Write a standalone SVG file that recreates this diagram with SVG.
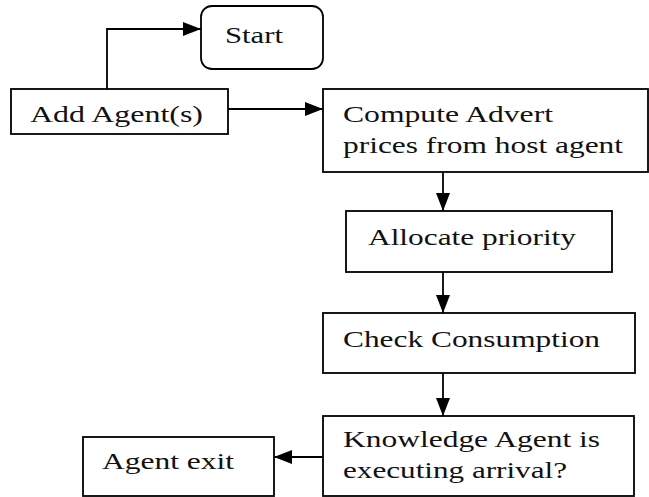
<svg xmlns="http://www.w3.org/2000/svg" width="649" height="497" viewBox="0 0 649 497">
  <style>
    .box { fill: #ffffff; stroke: #000000; stroke-width: 1.8; }
    .lbl { font-family: "Liberation Serif", "Times New Roman", serif; font-size: 24px; fill: #111111; }
    .edge { fill: none; stroke: #000000; stroke-width: 1.8; }
  </style>
  <defs>
    <marker id="arrow" markerUnits="userSpaceOnUse" markerWidth="18" markerHeight="14" viewBox="0 0 18 14" refX="18" refY="7" orient="auto">
      <path d="M0,0 L18,7 L0,14 Z" fill="#000000"/>
    </marker>
  </defs>
  <rect width="649" height="497" fill="#ffffff"/>

  <g id="connectors">
    <path class="edge" d="M107,89 L107,29 L201,29" marker-end="url(#arrow)"/>
    <path class="edge" d="M228,109 L323,109" marker-end="url(#arrow)"/>
    <path class="edge" d="M443,172 L443,211" marker-end="url(#arrow)"/>
    <path class="edge" d="M443,272 L443,313" marker-end="url(#arrow)"/>
    <path class="edge" d="M443,373 L443,416" marker-end="url(#arrow)"/>
    <path class="edge" d="M323,457 L274,457" marker-end="url(#arrow)"/>
  </g>

  <g id="start">
    <rect class="box" x="201" y="6" width="122" height="63" rx="11" ry="11"/>
    <text class="lbl" x="225" y="43" textLength="58" lengthAdjust="spacingAndGlyphs">Start</text>
  </g>

  <g id="add-agents">
    <rect class="box" x="11" y="89" width="217" height="45"/>
    <text class="lbl" x="30" y="122" textLength="173" lengthAdjust="spacingAndGlyphs">Add Agent(s)</text>
  </g>

  <g id="compute-advert">
    <rect class="box" x="323" y="89" width="325" height="83"/>
    <text class="lbl" x="343" y="122" textLength="210" lengthAdjust="spacingAndGlyphs">Compute Advert</text>
    <text class="lbl" x="343" y="153" textLength="280" lengthAdjust="spacingAndGlyphs">prices from host agent</text>
  </g>

  <g id="allocate-priority">
    <rect class="box" x="346" y="211" width="266" height="61"/>
    <text class="lbl" x="368" y="245" textLength="208" lengthAdjust="spacingAndGlyphs">Allocate priority</text>
  </g>

  <g id="check-consumption">
    <rect class="box" x="323" y="313" width="312" height="60"/>
    <text class="lbl" x="343" y="347" textLength="257" lengthAdjust="spacingAndGlyphs">Check Consumption</text>
  </g>

  <g id="knowledge-agent">
    <rect class="box" x="323" y="416" width="311" height="80"/>
    <text class="lbl" x="343" y="447" textLength="257" lengthAdjust="spacingAndGlyphs">Knowledge Agent is</text>
    <text class="lbl" x="343" y="478" textLength="224" lengthAdjust="spacingAndGlyphs">executing arrival?</text>
  </g>

  <g id="agent-exit">
    <rect class="box" x="83" y="437" width="191" height="59"/>
    <text class="lbl" x="102" y="469" textLength="132" lengthAdjust="spacingAndGlyphs">Agent exit</text>
  </g>
</svg>
